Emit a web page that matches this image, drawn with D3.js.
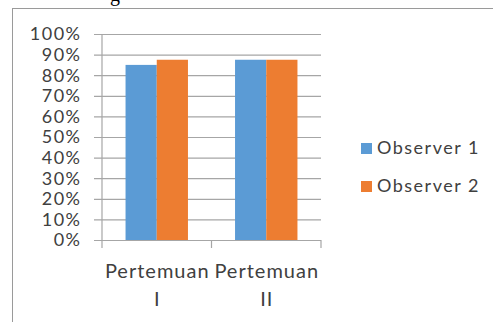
<!DOCTYPE html>
<html>
<head>
<meta charset="utf-8">
<script src="https://cdn.jsdelivr.net/npm/d3@7"></script>
<style>
  html, body { margin: 0; padding: 0; background: #fff; }
  svg { display: block; }
  text { font-family: Lato, "Open Sans", sans-serif; fill: #404040; }
</style>
</head>
<body>
<svg id="chart" width="493" height="322"></svg>
<script>
// Chart data
const categories = ["Pertemuan I", "Pertemuan II"];
const seriesNames = ["Observer 1", "Observer 2"];
const observer1 = [0.85, 0.875];
const observer2 = [0.875, 0.875];
const yTicks = [0, 0.1, 0.2, 0.3, 0.4, 0.5, 0.6, 0.7, 0.8, 0.9, 1.0];
const colors = ["#5B9BD5", "#ED7D31"];

const svg = d3.select("#chart");

// caption fragment above the frame
svg.append("text")
  .attr("x", 110).attr("y", 1)
  .style("font-family", "'Liberation Serif', serif")
  .style("font-size", "20px")
  .style("fill", "#000")
  .text("g");

// outer chart frame
svg.append("rect")
  .attr("x", 12.5).attr("y", 8.5)
  .attr("width", 600).attr("height", 400)
  .attr("fill", "none")
  .attr("stroke", "#9a9a9a")
  .attr("stroke-width", 1);

const plot = { left: 102, right: 321, top: 34, bottom: 240 };

const x = d3.scaleBand()
  .domain(categories)
  .range([plot.left, plot.right])
  .paddingInner(0.43)
  .paddingOuter(0.215);

const xSub = d3.scaleBand()
  .domain(seriesNames)
  .range([0, x.bandwidth()]);

const y = d3.scaleLinear()
  .domain([0, 1])
  .range([plot.bottom, plot.top]);

// horizontal gridlines
const grid = svg.append("g")
  .attr("transform", `translate(${plot.left},0)`)
  .call(d3.axisLeft(y).tickValues(yTicks)
    .tickSize(-(plot.right - plot.left))
    .tickFormat(""));
grid.select(".domain").remove();
grid.selectAll(".tick line")
  .attr("x1", -8)
  .attr("stroke", "#a6a6a6")
  .attr("stroke-width", 1.2);

// y axis labels
svg.append("g")
  .selectAll("text")
  .data(yTicks)
  .join("text")
  .attr("x", 81.5)
  .attr("y", d => y(d))
  .attr("dy", "0.36em")
  .attr("text-anchor", "end")
  .style("font-size", "18px")
  .style("letter-spacing", "1.5px")
  .text(d => d3.format(".0%")(d));

// y axis line
svg.append("line")
  .attr("x1", plot.left).attr("x2", plot.left)
  .attr("y1", plot.top).attr("y2", plot.bottom)
  .attr("stroke", "#a6a6a6")
  .attr("stroke-width", 1.2);

// bars
const data = categories.map((c, i) => ({
  category: c,
  values: [observer1[i], observer2[i]]
}));

svg.append("g")
  .selectAll("g")
  .data(data)
  .join("g")
  .attr("transform", d => `translate(${x(d.category)},0)`)
  .selectAll("rect")
  .data(d => d.values.map((v, j) => ({ name: seriesNames[j], value: v, j })))
  .join("rect")
  .attr("x", d => xSub(d.name))
  .attr("y", d => y(d.value))
  .attr("width", xSub.bandwidth())
  .attr("height", d => y(0) - y(d.value))
  .attr("fill", d => colors[d.j]);

// x axis with category-boundary ticks
const xAxis = svg.append("g");
xAxis.append("line")
  .attr("x1", plot.left - 8).attr("x2", plot.right)
  .attr("y1", plot.bottom + 0.5).attr("y2", plot.bottom + 0.5)
  .attr("stroke", "#a6a6a6").attr("stroke-width", 1.2);
const boundaries = [plot.left].concat(categories.map(c => x(c) + x.bandwidth() + x.step() * x.paddingInner() / 2));
boundaries[boundaries.length - 1] = plot.right;
xAxis.selectAll("line.tick")
  .data(boundaries)
  .join("line")
  .attr("class", "tick")
  .attr("x1", d => d).attr("x2", d => d)
  .attr("y1", plot.bottom).attr("y2", plot.bottom + 8)
  .attr("stroke", "#a6a6a6").attr("stroke-width", 1.2);

// category labels (wrapped onto two lines)
const catLabels = svg.append("g")
  .selectAll("text")
  .data(categories)
  .join("text")
  .attr("text-anchor", "middle")
  .attr("x", d => x(d) + x.bandwidth() / 2 + 0.5)
  .attr("y", 278)
  .style("font-size", "20px")
  .style("letter-spacing", "1px");
catLabels.each(function(d) {
  const parts = d.split(" ");
  const t = d3.select(this);
  parts.forEach((p, i) => {
    t.append("tspan")
      .attr("x", t.attr("x"))
      .attr("dy", i === 0 ? 0 : "1.4em")
      .text(p);
  });
});

// legend
const legend = svg.append("g")
  .selectAll("g")
  .data(seriesNames)
  .join("g")
  .attr("transform", (d, i) => `translate(361,${148 + i * 38})`);
legend.append("rect")
  .attr("x", 0).attr("y", -5)
  .attr("width", 11).attr("height", 11)
  .attr("fill", (d, i) => colors[i]);
legend.append("text")
  .attr("x", 16)
  .attr("y", 0)
  .attr("dy", "0.36em")
  .style("font-size", "18px")
  .style("letter-spacing", "1.5px")
  .text(d => d);
</script>
</body>
</html>
